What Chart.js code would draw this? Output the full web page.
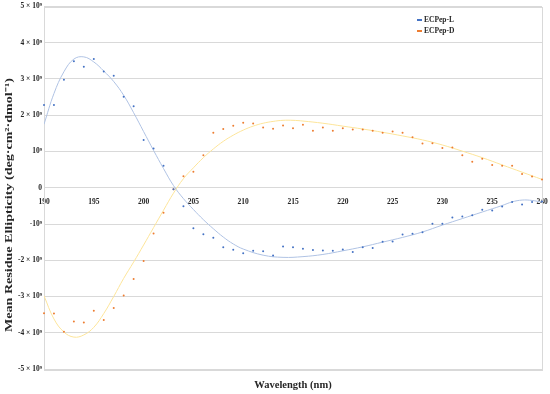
<!DOCTYPE html>
<html>
<head>
    <title>ECPep CD spectra</title>
    <style>
        body { margin: 0; background: #ffffff; }
        .chart-box { width: 550px; height: 394px; }
    </style>
</head>
<body>
    <div class="chart-box">
        <canvas id="cd-chart"></canvas>
    </div>

    <script src="https://cdn.jsdelivr.net/npm/chart.js"></script>
    <script>
        // wavelength (nm) of each measured point
        const wavelengths = [190, 191, 192, 193, 194, 195, 196, 197, 198, 199,
            200, 201, 202, 203, 204, 205, 206, 207, 208, 209,
            210, 211, 212, 213, 214, 215, 216, 217, 218, 219,
            220, 221, 222, 223, 224, 225, 226, 227, 228, 229,
            230, 231, 232, 233, 234, 235, 236, 237, 238, 239, 240];

        // mean residue ellipticity, in units of 10^9 deg·cm²·dmol⁻¹
        const ecpepL = [2.28, 2.28, 2.98, 3.49, 3.34, 3.55, 3.21, 3.09, 2.51, 2.25,
            1.32, 1.08, 0.61, -0.04, -0.51, -1.12, -1.28, -1.38, -1.64, -1.71,
            -1.81, -1.74, -1.75, -1.87, -1.62, -1.64, -1.68, -1.72, -1.73, -1.74,
            -1.70, -1.77, -1.64, -1.66, -1.49, -1.48, -1.29, -1.27, -1.23, -0.99,
            -0.99, -0.82, -0.79, -0.76, -0.61, -0.63, -0.52, -0.39, -0.46, -0.39, -0.38];
        const ecpepD = [-3.46, -3.47, -3.97, -3.69, -3.72, -3.39, -3.65, -3.32, -2.97, -2.52,
            -2.02, -1.26, -0.69, -0.04, 0.32, 0.44, 0.90, 1.52, 1.62, 1.71,
            1.79, 1.77, 1.66, 1.63, 1.72, 1.64, 1.74, 1.57, 1.66, 1.57,
            1.64, 1.61, 1.61, 1.57, 1.52, 1.55, 1.52, 1.39, 1.22, 1.23,
            1.10, 1.11, 0.90, 0.72, 0.80, 0.63, 0.61, 0.61, 0.38, 0.31, 0.23];

        // smooth trend lines as drawn in the figure
        const trendLx = [190, 191, 192, 193, 194, 195, 196, 197, 198, 199, 200, 201, 202, 203,
            204, 205, 206, 207, 208, 209, 210, 212, 214, 216, 218, 220, 222, 224, 226, 228,
            230, 232, 234, 236, 237, 238, 239, 240];
        const trendL = [1.75, 2.6, 3.2, 3.55, 3.61, 3.47, 3.22, 2.93, 2.55, 2.07, 1.55, 1.03, 0.53, 0.06,
            -0.3, -0.6, -0.88, -1.13, -1.36, -1.55, -1.69, -1.86, -1.92, -1.9, -1.84, -1.74, -1.63, -1.5, -1.37, -1.22,
            -1.03, -0.85, -0.67, -0.49, -0.39, -0.34, -0.35, -0.4];
        const trendDx = [190, 191, 192, 193, 194, 195, 196, 197, 198, 199, 200, 201, 202, 203,
            204, 205, 206, 207, 208, 209, 210, 211, 212, 213, 214, 215, 216, 218, 220, 222,
            224, 226, 228, 230, 232, 234, 236, 238, 240];
        const trendD = [-2.98, -3.62, -3.98, -4.12, -4.06, -3.85, -3.47, -3.0, -2.5, -2.05, -1.58, -1.1, -0.62, -0.15,
            0.25, 0.55, 0.83, 1.07, 1.28, 1.45, 1.59, 1.7, 1.78, 1.83, 1.86, 1.86, 1.84, 1.78, 1.7, 1.62,
            1.53, 1.43, 1.32, 1.18, 1.01, 0.83, 0.63, 0.43, 0.23];

        // axis ticks
        const xTicks = [190, 195, 200, 205, 210, 215, 220, 225, 230, 235, 240];
        const yTickValues = [-5, -4, -3, -2, -1, 0, 1, 2, 3, 4, 5];
        const yTickLabels = ['-5 × 10⁹', '-4 × 10⁹', '-3 × 10⁹', '-2 × 10⁹', '-10⁹', '0',
            '10⁹', '2 × 10⁹', '3 × 10⁹', '4 × 10⁹', '5 × 10⁹'];

        const serif = "'Liberation Serif', 'Times New Roman', serif";
        const gridGrey = '#d9d9d9';
        const textColor = '#262626';

        function toPoints(xs, ys) {
            return xs.map((x, i) => ({ x: x, y: ys[i] }));
        }

        // light grey frame round the plot area
        const plotFrame = {
            id: 'plotFrame',
            beforeDatasetsDraw(chart) {
                const { ctx, chartArea: a } = chart;
                ctx.save();
                ctx.strokeStyle = gridGrey;
                ctx.lineWidth = 1;
                ctx.strokeRect(Math.round(a.left) + 0.5, Math.round(a.top) + 0.5,
                    Math.round(a.right - a.left), Math.round(a.bottom - a.top));
                ctx.restore();
            }
        };

        // legend in the top right corner, one entry per row
        const cornerLegend = {
            id: 'cornerLegend',
            afterDraw(chart) {
                const { ctx, chartArea: a } = chart;
                const items = chart.data.datasets.filter(d => d.inLegend);
                ctx.save();
                ctx.font = 'bold 7.5px ' + serif;
                ctx.textBaseline = 'middle';
                ctx.textAlign = 'left';
                items.forEach((d, i) => {
                    const y = a.top + 13.5 + i * 11;
                    ctx.fillStyle = d.backgroundColor;
                    ctx.fillRect(a.right - 125, y - 1, 5, 2);
                    ctx.fillStyle = textColor;
                    ctx.fillText(d.label, a.right - 118, y);
                });
                ctx.restore();
            }
        };

        // rotated y title, drawn long and narrow like the original
        const yTitle = {
            id: 'yTitle',
            afterDraw(chart) {
                const ctx = chart.ctx;
                const text = 'Mean Residue Ellipticity (deg·cm²·dmol⁻¹)';
                ctx.save();
                ctx.font = 'bold 10.5px ' + serif;
                ctx.fillStyle = textColor;
                ctx.textAlign = 'center';
                ctx.textBaseline = 'middle';
                ctx.translate(9, 205);
                ctx.rotate(-Math.PI / 2);
                const w = ctx.measureText(text).width;
                ctx.scale(254 / w, 1);
                ctx.fillText(text, 0, 0);
                ctx.restore();
            }
        };

        const chart = new Chart(document.getElementById('cd-chart'), {
            type: 'scatter',
            data: {
                datasets: [
                    {
                        label: 'ECPep-L',
                        inLegend: true,
                        data: toPoints(wavelengths, ecpepL),
                        backgroundColor: '#4472c4',
                        pointRadius: 1,
                        pointBorderWidth: 0,
                        clip: false
                    },
                    {
                        label: 'ECPep-D',
                        inLegend: true,
                        data: toPoints(wavelengths, ecpepD),
                        backgroundColor: '#ed7d31',
                        pointRadius: 1,
                        pointBorderWidth: 0,
                        clip: false
                    },
                    {
                        label: 'ECPep-L trend',
                        data: toPoints(trendLx, trendL),
                        showLine: true,
                        borderColor: '#b0c3e4',
                        borderWidth: 1,
                        pointRadius: 0,
                        tension: 0.4
                    },
                    {
                        label: 'ECPep-D trend',
                        data: toPoints(trendDx, trendD),
                        showLine: true,
                        borderColor: '#fde59a',
                        borderWidth: 1,
                        pointRadius: 0,
                        tension: 0.4
                    }
                ]
            },
            options: {
                responsive: true,
                maintainAspectRatio: false,
                animation: false,
                layout: { padding: { top: 5, right: 8, left: 0, bottom: 0 } },
                plugins: {
                    legend: { display: false },
                    tooltip: { enabled: false }
                },
                scales: {
                    x: {
                        type: 'linear',
                        position: { y: 0 },
                        min: 190,
                        max: 240,
                        afterBuildTicks(scale) {
                            scale.ticks = xTicks.map(v => ({ value: v }));
                        },
                        grid: { display: false },
                        border: { display: true, color: gridGrey },
                        ticks: {
                            padding: 2,
                            color: textColor,
                            font: { family: serif, size: 7.5, weight: 'bold' }
                        }
                    },
                    xTitle: {
                        type: 'linear',
                        axis: 'x',
                        position: 'bottom',
                        min: 190,
                        max: 240,
                        grid: { display: false },
                        border: { display: false },
                        ticks: { display: false },
                        afterFit(scale) { scale.height = 25; },
                        title: {
                            display: true,
                            text: 'Wavelength (nm)',
                            color: textColor,
                            padding: { top: 0, bottom: 2 },
                            font: { family: serif, size: 10.5, weight: 'bold' }
                        }
                    },
                    y: {
                        min: -5,
                        max: 5,
                        afterBuildTicks(scale) {
                            scale.ticks = yTickValues.map(v => ({ value: v }));
                        },
                        afterFit(scale) { scale.width = 44; },
                        grid: { color: gridGrey, drawTicks: false },
                        border: { color: gridGrey },
                        ticks: {
                            padding: 2,
                            color: textColor,
                            font: { family: serif, size: 7.5, weight: 'bold' },
                            callback: (v) => yTickLabels[yTickValues.indexOf(v)]
                        }
                    }
                }
            },
            plugins: [plotFrame, cornerLegend, yTitle]
        });
    </script>
</body>
</html>
